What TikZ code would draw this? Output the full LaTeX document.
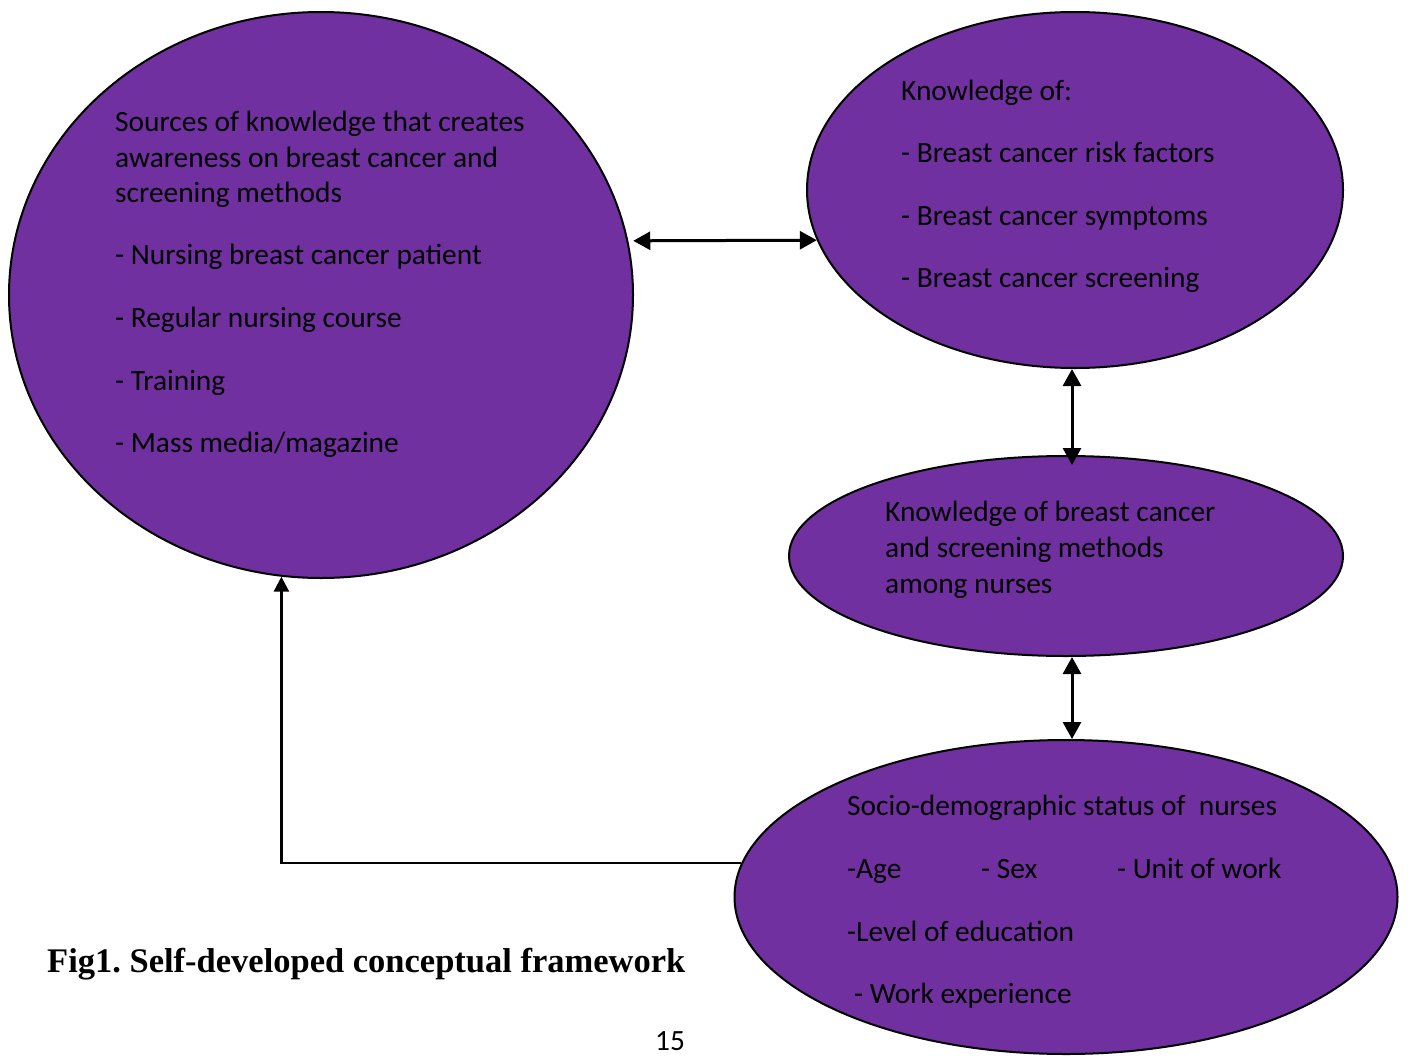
\documentclass[tikz,border=0pt]{standalone}
\usepackage{fontspec}
\setmainfont{Carlito}
\newfontfamily\capfont{Liberation Serif}
\usetikzlibrary{shapes.geometric,arrows.meta}
\definecolor{plum}{HTML}{7030A0}
\frenchspacing
\tikzset{
  blob/.style={ellipse, draw=black, line width=2pt, fill=plum, inner sep=0pt},
  txt/.style={anchor=base west, inner sep=0pt, font=\fontsize{29.4}{36}\selectfont},
  twoway/.style={line width=3pt, {Triangle[length=17pt,width=18pt]}-{Triangle[length=17pt,width=18pt]}},
  oneway/.style={line width=2.6pt, -{Triangle[length=15pt,width=15pt]}}
}
\begin{document}
\begin{tikzpicture}[x=1pt,y=-1pt]

		%%Location
		\useasboundingbox (0,0) rectangle (1408,1057);

		%%ellipses
		\node[blob, minimum width=624pt, minimum height=566pt] (src) at (321,295) {};
		\node[blob, minimum width=536pt, minimum height=356pt] (know) at (1075,190) {};
		\node[blob, minimum width=554pt, minimum height=200pt] (mid) at (1066,556) {};
		\node[blob, minimum width=663pt, minimum height=314pt] (socio) at (1066,897) {};

		%%sources
		\node[txt] (src1) at (115,131) {Sources of knowledge that creates};
		\node[txt] (src2) at (115,167) {awareness on breast cancer and};
		\node[txt] (src3) at (115,202) {screening methods};
		\node[txt] (src4) at (115,264) {- Nursing breast cancer patient};
		\node[txt] (src5) at (115,327) {- Regular nursing course};
		\node[txt] (src6) at (115,390) {- Training};
		\node[txt] (src7) at (115,452) {- Mass media/magazine};

		%%knowledge
		\node[txt] (know1) at (901,100) {Knowledge of:};
		\node[txt] (know2) at (901,162) {- Breast cancer risk factors};
		\node[txt] (know3) at (901,225) {- Breast cancer symptoms};
		\node[txt] (know4) at (901,287) {- Breast cancer screening};

		%%nurses
		\node[txt] (mid1) at (885,521) {Knowledge of breast cancer};
		\node[txt] (mid2) at (885,557) {and screening methods};
		\node[txt] (mid3) at (885,593) {among nurses};

		%%socio-demographic
		\node[txt] (soc1) at (847,815) {Socio-demographic status of \ nurses};
		\node[txt] (soc2) at (847,878) {-Age};
		\node[txt] (soc3) at (981,878) {- Sex};
		\node[txt] (soc4) at (1117,878) {- Unit of work};
		\node[txt] (soc5) at (847,941) {-Level of education};
		\node[txt] (soc6) at (854,1003) {- Work experience};

		%%arrows
		\draw[twoway, shorten <=5pt] (src.10) -- (know.191);
		\draw[twoway, shorten >=-10pt] ([xshift=-3pt]know.south) -- ([xshift=-3pt]know.south |- mid.north);
		\draw[twoway] ([xshift=-3pt]mid.south -| know.south) -- ([xshift=-3pt]know.south |- socio.north);
		\draw[oneway] (socio.174) -| (src.262);

		%%caption
		\node[anchor=base west, inner sep=0pt, font=\capfont\bfseries\fontsize{34.5}{40}\selectfont] (cap) at (47,972) {Fig1. Self-developed conceptual framework};
		\node[anchor=base, inner sep=0pt, font=\fontsize{29.4}{36}\selectfont] (page) at (670,1050) {15};
\end{tikzpicture}
\end{document}
